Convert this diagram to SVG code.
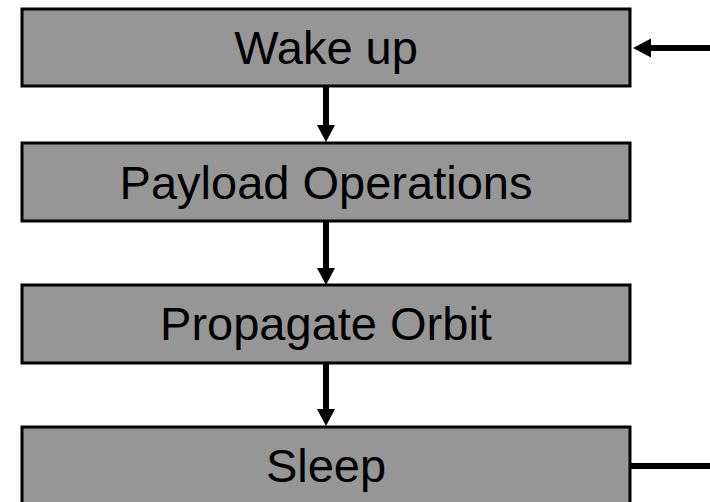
<svg xmlns="http://www.w3.org/2000/svg" width="710" height="502" viewBox="0 0 710 502">
<style>
.box{fill:#969696;stroke:#000;stroke-width:3}
.lbl{font-family:"Liberation Sans",Arial,sans-serif;font-size:47px;fill:#000;text-anchor:middle}
.con{stroke:#000;stroke-width:6;fill:none}
.head{fill:#000}
</style>
<rect width="710" height="502" fill="#fff"/>
<g id="wake">
<rect class="box" x="22" y="9" width="608" height="77"/>
<text class="lbl" x="326" y="64">Wake up</text>
</g>
<g id="payload">
<rect class="box" x="22" y="143" width="608" height="78"/>
<text class="lbl" x="326" y="199">Payload Operations</text>
</g>
<g id="propagate">
<rect class="box" x="22" y="285" width="608" height="78"/>
<text class="lbl" x="326" y="340">Propagate Orbit</text>
</g>
<g id="sleep">
<rect class="box" x="22" y="427" width="608" height="78"/>
<text class="lbl" x="326" y="482">Sleep</text>
</g>
<g id="connectors">
<line class="con" x1="326" y1="87" x2="326" y2="126"/>
<polygon class="head" points="317,125 335,125 326,142"/>
<line class="con" x1="326" y1="222" x2="326" y2="269"/>
<polygon class="head" points="317,268 335,268 326,285"/>
<line class="con" x1="326" y1="364" x2="326" y2="410"/>
<polygon class="head" points="317,409 335,409 326,426"/>
<line class="con" x1="710" y1="48" x2="650" y2="48"/>
<polygon class="head" points="651,38.5 651,57.5 633,48"/>
<line class="con" x1="631" y1="466" x2="710" y2="466"/>
</g>
</svg>
